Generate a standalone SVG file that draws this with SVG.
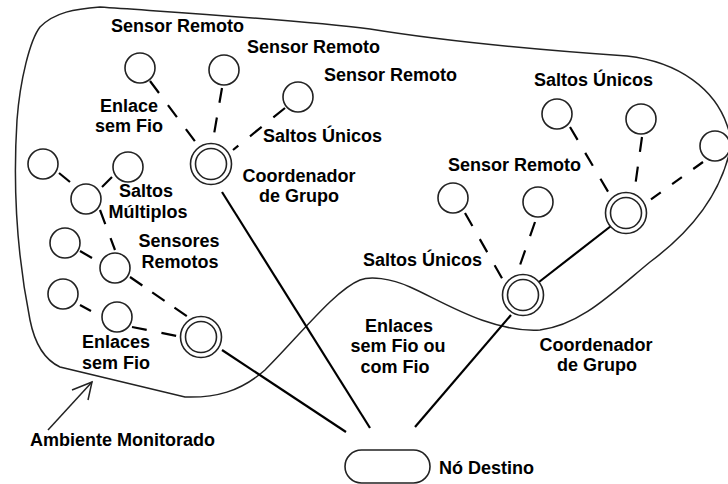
<svg xmlns="http://www.w3.org/2000/svg" width="728" height="484" viewBox="0 0 728 484">
<style>
text{font-family:"Liberation Sans",Arial,sans-serif;font-weight:bold;font-size:18px;fill:#000}
.m{text-anchor:middle}
.s{fill:#fff;stroke:#222;stroke-width:1.6}
.d{stroke:#000;stroke-width:2.2;stroke-dasharray:15 15;fill:none}
.l{stroke:#000;stroke-width:2.2;fill:none}
.b{stroke:#222;stroke-width:1.5;fill:none}
</style>
<rect width="728" height="484" fill="#fff"/>
<path id="ambiente" class="b" d="M40,27 C55,12 75,9 100,7 C200,14 300,20 370,29 C450,42 540,50 627,56 C680,62 715,90 727,125 L732,140 C725,185 700,225 650,262 C610,295 580,325 540,330 C490,333 440,300 410,287 C390,278 370,276 360,280 C335,290 300,335 265,370 C240,392 215,398 185,397 L60,367 C45,360 35,345 30,320 C20,270 12,200 17,120 C20,80 30,40 40,27 Z"/>
<g id="connectors">
<line class="d" x1="150" y1="81" x2="197" y2="144"/>
<line class="d" x1="222" y1="88" x2="213" y2="140"/>
<line class="d" x1="285" y1="108" x2="233" y2="150"/>
<line class="d" x1="59" y1="173" x2="70" y2="182"/>
<line class="d" x1="112" y1="177" x2="102" y2="187"/>
<line class="d" x1="100" y1="210" x2="115" y2="250"/>
<line class="d" x1="80" y1="251" x2="92" y2="258"/>
<line class="d" x1="130" y1="277" x2="188" y2="317" style="stroke-dasharray:15 12"/>
<line class="d" x1="80" y1="305" x2="91" y2="311"/>
<line class="d" x1="132" y1="327" x2="177" y2="336"/>
<line class="d" x1="570" y1="127" x2="610" y2="195"/>
<line class="d" x1="642" y1="137" x2="635" y2="187"/>
<line class="d" x1="703" y1="162" x2="650" y2="200" style="stroke-dasharray:12 14"/>
<line class="d" x1="465" y1="213" x2="503" y2="280"/>
<line class="d" x1="535" y1="222" x2="519" y2="268"/>
<line class="l" x1="222" y1="192" x2="370" y2="428"/>
<line class="l" x1="222" y1="350" x2="346" y2="432"/>
<line class="l" x1="511" y1="315" x2="415" y2="427"/>
<line class="l" x1="539" y1="282" x2="611" y2="226"/>
<line class="b" x1="48" y1="430" x2="92" y2="382"/>
<polyline class="b" points="72,390 92,382 88,400"/>
</g>
<g id="sensores">
<circle class="s" cx="140" cy="68" r="15"/>
<circle class="s" cx="224" cy="70" r="15"/>
<circle class="s" cx="298" cy="97" r="15"/>
<circle class="s" cx="43" cy="164" r="15"/>
<circle class="s" cx="128" cy="167" r="15"/>
<circle class="s" cx="86" cy="199" r="15"/>
<circle class="s" cx="65" cy="243" r="15"/>
<circle class="s" cx="115" cy="268" r="15"/>
<circle class="s" cx="63" cy="294" r="15"/>
<circle class="s" cx="117" cy="317" r="15"/>
<circle class="s" cx="557" cy="114" r="15"/>
<circle class="s" cx="641" cy="119" r="15"/>
<circle class="s" cx="715" cy="146" r="15"/>
<circle class="s" cx="453" cy="198" r="15"/>
<circle class="s" cx="538" cy="202" r="15"/>
</g>
<g id="coord1"><circle class="s" cx="211" cy="164" r="20.5"/><circle class="s" cx="211" cy="164" r="15.5"/></g>
<g id="coord2"><circle class="s" cx="201" cy="337" r="20.5"/><circle class="s" cx="201" cy="337" r="15.5"/></g>
<g id="coord3"><circle class="s" cx="626" cy="213" r="20.5"/><circle class="s" cx="626" cy="213" r="15.5"/></g>
<g id="coord4"><circle class="s" cx="523" cy="295" r="20.5"/><circle class="s" cx="523" cy="295" r="15.5"/></g>
<g id="destino"><rect class="s" x="345" y="450" width="85" height="33" rx="16.5"/></g>
<g id="labels">
<text x="111" y="32">Sensor Remoto</text>
<text x="247" y="53">Sensor Remoto</text>
<text x="324" y="81">Sensor Remoto</text>
<text class="m" x="129" y="112">Enlace</text>
<text class="m" x="129" y="132">sem Fio</text>
<text x="263" y="142">Saltos Únicos</text>
<text class="m" x="299" y="182">Coordenador</text>
<text class="m" x="299" y="202">de Grupo</text>
<text class="m" x="146" y="197">Saltos</text>
<text class="m" x="148" y="218">Múltiplos</text>
<text class="m" x="179" y="247">Sensores</text>
<text class="m" x="180" y="268">Remotos</text>
<text class="m" x="116" y="348">Enlaces</text>
<text class="m" x="116" y="369">sem Fio</text>
<text x="30" y="446">Ambiente Monitorado</text>
<text x="439" y="474">Nó Destino</text>
<text x="534" y="86">Saltos Únicos</text>
<text x="448" y="171">Sensor Remoto</text>
<text x="363" y="266">Saltos Únicos</text>
<text class="m" x="399" y="332">Enlaces</text>
<text class="m" x="398" y="352">sem Fio ou</text>
<text class="m" x="395" y="373">com Fio</text>
<text class="m" x="596" y="351">Coordenador</text>
<text class="m" x="597" y="371">de Grupo</text>
</g>
</svg>
